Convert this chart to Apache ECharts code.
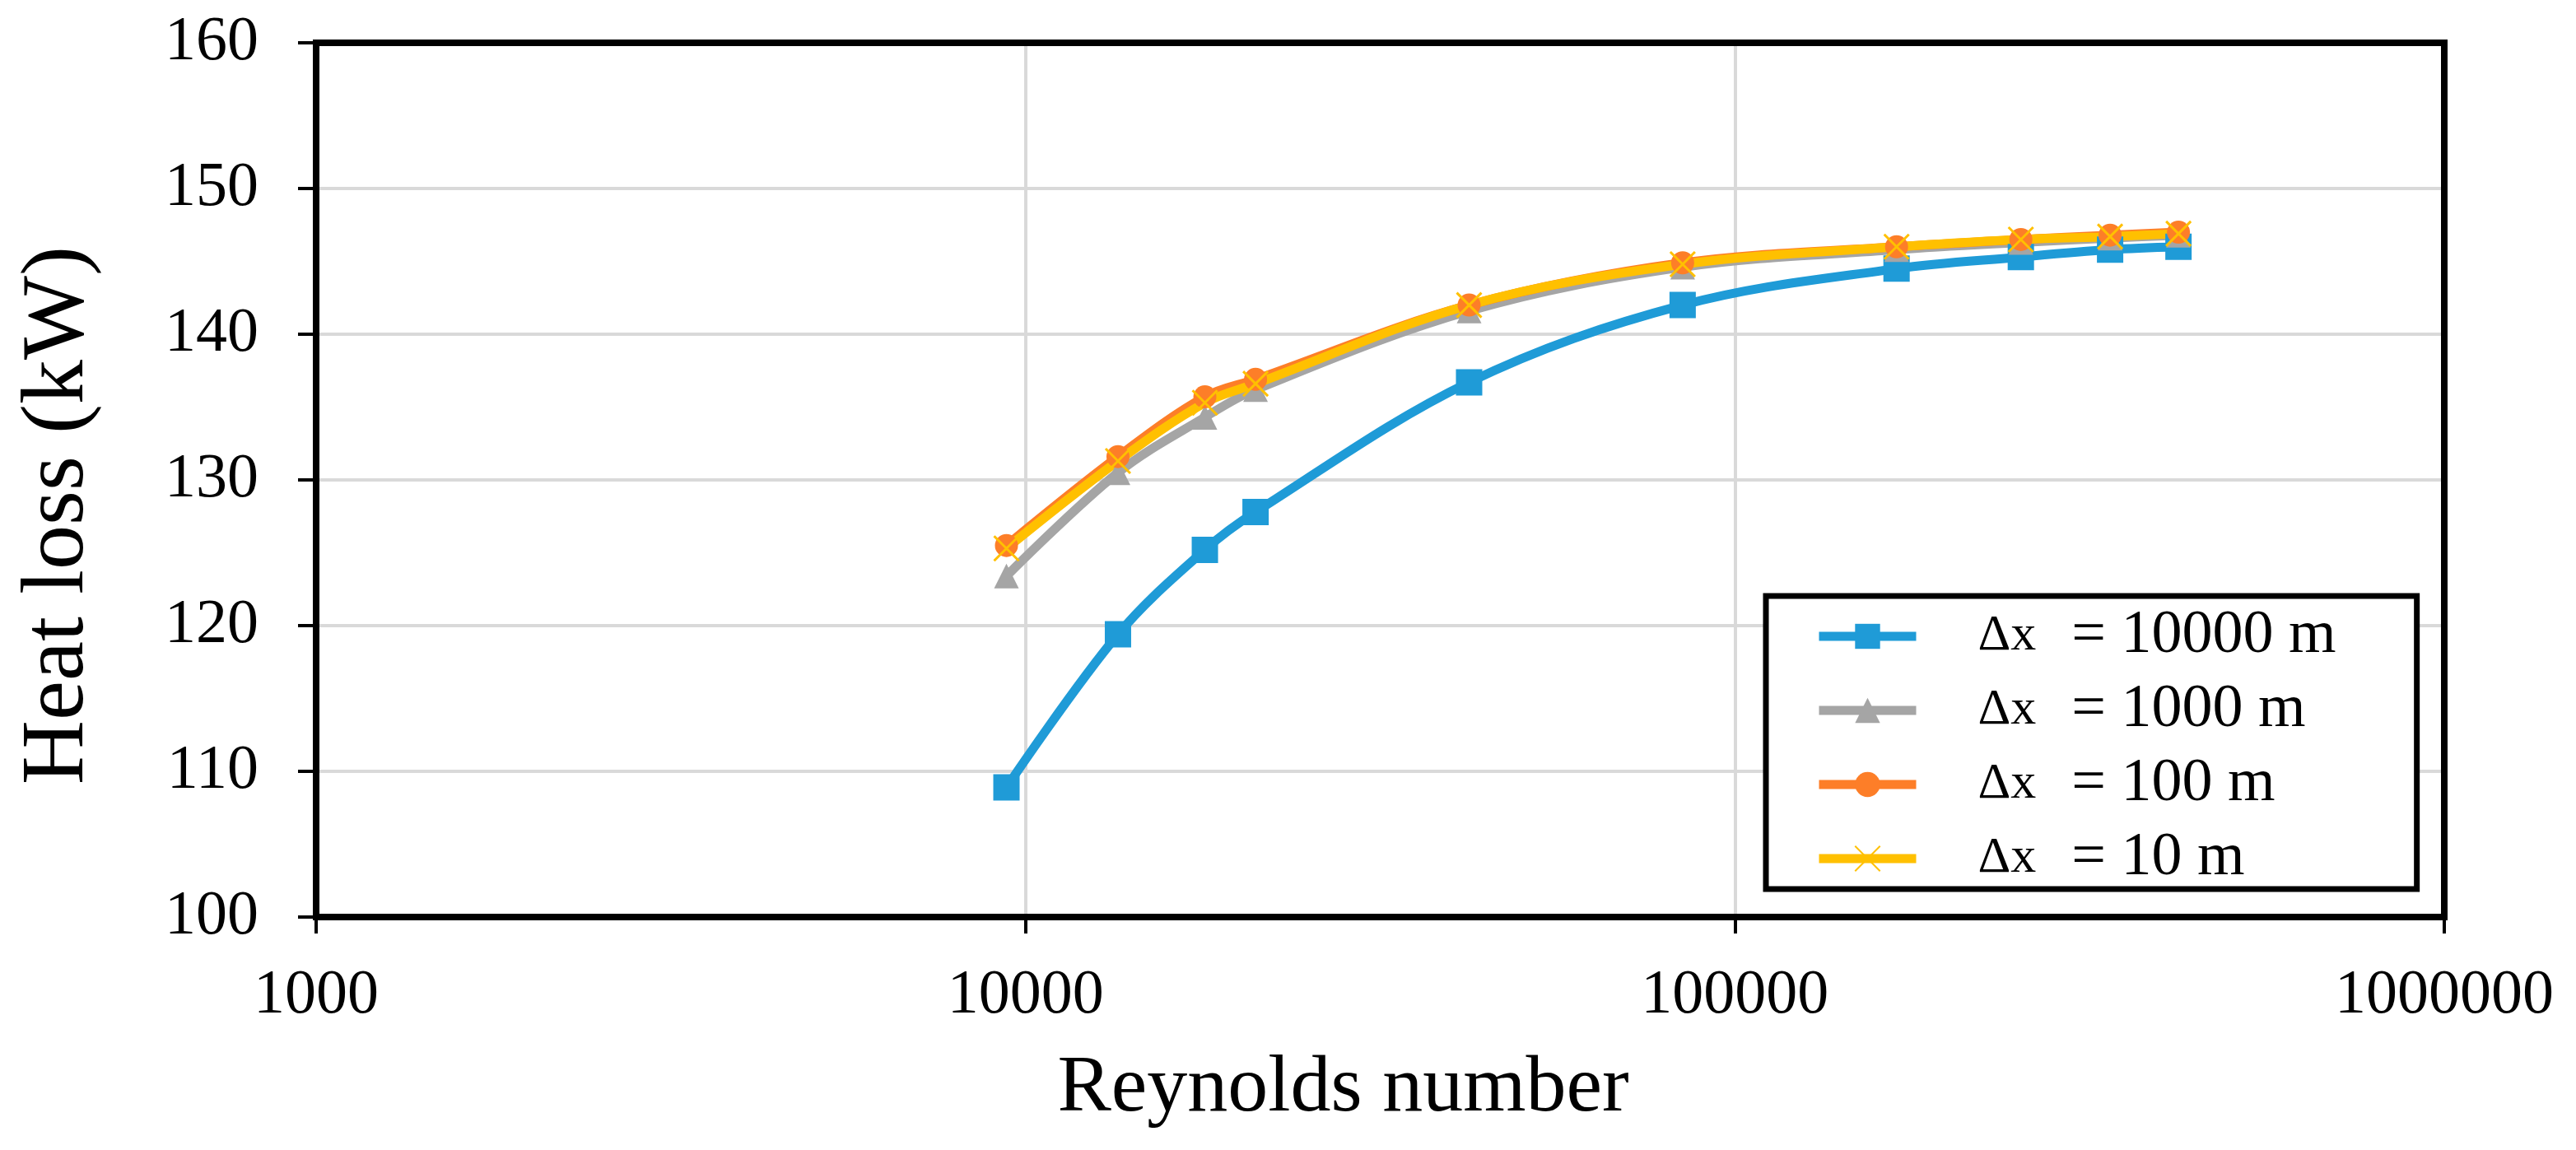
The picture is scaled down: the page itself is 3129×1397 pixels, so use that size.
<!DOCTYPE html>
<html>
<head>
<meta charset="utf-8">
<script src="https://cdn.jsdelivr.net/npm/echarts@6/dist/echarts.min.js"></script>
<style>
html,body{margin:0;padding:0;background:#fff;}
#chart{width:3129px;height:1397px;}
</style>
</head>
<body>
<div id="chart"></div>
<script>
// Reynolds numbers (x) shared by all series
const reynolds = [9400, 13500, 17900, 21100, 42200, 84400, 169000, 253000, 338000, 422000];
// Heat loss (kW)
const dx10000 = [108.9, 119.4, 125.2, 127.8, 136.7, 142.0, 144.5, 145.3, 145.8, 146.0];
const dx1000  = [123.4, 130.5, 134.3, 136.2, 141.6, 144.6, 145.8, 146.3, 146.6, 146.8];
const dx100   = [125.5, 131.6, 135.7, 136.9, 142.0, 144.9, 146.0, 146.5, 146.8, 147.0];
const dx10    = [125.3, 131.3, 135.3, 136.6, 142.0, 144.8, 146.0, 146.5, 146.7, 146.9];
const seriesLabels = ['10000 m', '1000 m', '100 m', '10 m'];
const xTicks = [1000, 10000, 100000, 1000000];
const yTicks = [100, 110, 120, 130, 140, 150, 160];

const pair = (ys) => reynolds.map((x, i) => [x, ys[i]]);
const FONT = '"Liberation Serif", "Times New Roman", serif';

const colors = ['#1F9BD7', '#A5A5A5', '#FD7E28', '#FFC000'];
const symbols = ['rect', 'triangle', 'circle', 'path://M0,0L10,10M10,0L0,10'];
const sizes = [32, 30, 28, 30];
const dataSets = [dx10000, dx1000, dx100, dx10];

const series = dataSets.map((ys, k) => ({
  name: 'Δx = ' + seriesLabels[k],
  type: 'line',
  xAxisIndex: 0, yAxisIndex: 0,
  data: pair(ys),
  smooth: 0.35,
  symbol: symbols[k],
  symbolSize: sizes[k],
  showAllSymbol: true,
  lineStyle: { color: colors[k], width: 11 },
  itemStyle: k === 3
    ? { color: 'rgba(0,0,0,0)', borderColor: colors[k], borderWidth: 3 }
    : { color: colors[k], borderWidth: 0 },
  emphasis: { disabled: true },
  animation: false
}));

const frameAxisLine = { show: true, lineStyle: { color: '#000', width: 8 } };

const chart = echarts.init(document.getElementById('chart'), null, { renderer: 'canvas' });
chart.setOption({
  backgroundColor: '#ffffff',
  animation: false,
  grid: {
    left: 384, top: 52, width: 2585, height: 1062,
    show: true, borderColor: '#000', borderWidth: 8, backgroundColor: 'transparent'
  },
  xAxis: [{
    type: 'log', logBase: 10, min: xTicks[0], max: xTicks[xTicks.length - 1],
    name: 'Reynolds number', nameLocation: 'middle', nameGap: 160,
    nameTextStyle: { fontFamily: FONT, fontSize: 98, color: '#000', padding: [0, 90, 0, 0] },
    axisLine: frameAxisLine,
    axisTick: { show: true, inside: false, length: 20, lineStyle: { color: '#000', width: 4 } },
    minorTick: { show: false },
    splitLine: { show: true, lineStyle: { color: '#d9d9d9', width: 4 } },
    axisLabel: {
      fontFamily: FONT, fontSize: 76, color: '#000', margin: 58,
      formatter: (v) => String(Math.round(v))
    },
    z: 3
  }, {
    type: 'log', logBase: 10, min: xTicks[0], max: xTicks[xTicks.length - 1],
    position: 'top', axisLine: frameAxisLine,
    axisTick: { show: false }, axisLabel: { show: false }, splitLine: { show: false }, z: 3
  }],
  yAxis: [{
    type: 'value', min: yTicks[0], max: yTicks[yTicks.length - 1], interval: 10,
    name: 'Heat loss (kW)', nameLocation: 'middle', nameGap: 258, nameRotate: 90,
    nameTextStyle: { fontFamily: FONT, fontSize: 108, color: '#000', padding: [0, 86, 0, 0] },
    axisLine: frameAxisLine,
    axisTick: { show: true, inside: false, length: 22, lineStyle: { color: '#000', width: 4 } },
    splitLine: { show: true, lineStyle: { color: '#d9d9d9', width: 4 } },
    axisLabel: { fontFamily: FONT, fontSize: 76, color: '#000', margin: 70 },
    z: 3
  }, {
    type: 'value', min: yTicks[0], max: yTicks[yTicks.length - 1], interval: 10,
    position: 'right', axisLine: frameAxisLine,
    axisTick: { show: false }, axisLabel: { show: false }, splitLine: { show: false }, z: 3
  }],
  legend: {
    orient: 'vertical', left: 2145, top: 724,
    padding: [12, 98, 0, 59],
    backgroundColor: '#fff', borderColor: '#000', borderWidth: 7,
    itemWidth: 118, itemHeight: 38, itemGap: 16,
    lineStyle: { width: 11 },
    selectedMode: false,
    formatter: (name) => '{a|Δx}{s|}{b|= ' + name.replace('Δx = ', '') + '}',
    textStyle: {
      fontFamily: FONT, fontSize: 74, color: '#000', lineHeight: 70, padding: [0, 0, 0, 70],
      rich: {
        a: { fontFamily: FONT, fontSize: 62, color: '#000', lineHeight: 70 },
        s: { width: 43, lineHeight: 70 },
        b: { fontFamily: FONT, fontSize: 74, color: '#000', lineHeight: 70 }
      }
    },
    data: series.map(s => s.name)
  },
  series: series
});
</script>
</body>
</html>
